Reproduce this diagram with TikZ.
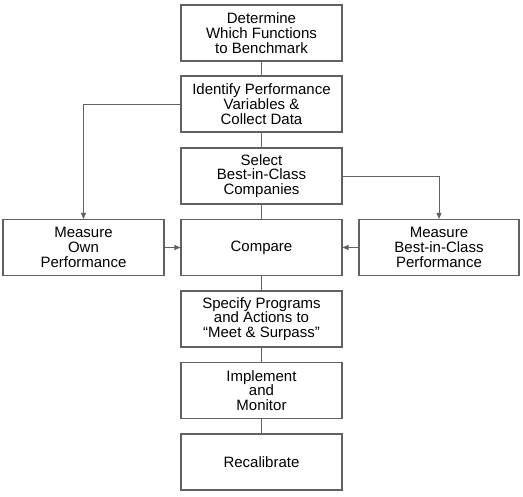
\documentclass[tikz,border=0pt]{standalone}
\usepackage{fontspec}
\setmainfont{Liberation Sans}
\usetikzlibrary{arrows.meta}
\begin{document}
\begin{tikzpicture}[x=1pt,y=-1pt,
  box/.style={draw=black!62, line width=1.1pt, minimum width=161pt, minimum height=56pt,
    inner sep=0pt, align=center, font=\fontsize{15}{14.8}\selectfont, text=black},
  conn/.style={draw=black!62, line width=0.9pt},
  arr/.style={conn, -{Triangle[length=6pt,width=5pt]}}]
\useasboundingbox (0,0) rectangle (523,497);
\node[box] (det) at (261.5,33) {Determine\\Which Functions\\to Benchmark};
\node[box] (ide) at (261.5,104) {Identify Performance\\Variables \&\\Collect Data};
\node[box] (sel) at (261.5,176) {Select\\Best-in-Class\\Companies};
\node[box] (cmp) at (261.5,247.5) {Compare};
\node[box] (own) at (83.5,247.5) {Measure\\Own\\Performance};
\node[box, minimum width=160pt] (bic) at (439,247.5) {Measure\\Best-in-Class\\Performance};
\node[box] (spe) at (261.5,319) {Specify Programs\\and Actions to\\“Meet \& Surpass”};
\node[box] (imp) at (261.5,390.5) {Implement\\and\\Monitor};
\node[box] (rec) at (261.5,462) {Recalibrate};
\draw[conn] (det) -- (ide);
\draw[conn] (ide) -- (sel);
\draw[conn] (sel) -- (cmp);
\draw[conn] (cmp) -- (spe);
\draw[conn] (spe) -- (imp);
\draw[conn] (imp) -- (rec);
\draw[arr] (ide.west) -| (own.north);
\draw[arr] (sel.east) -| (bic.north);
\draw[arr] (own) -- (cmp);
\draw[arr] (bic) -- (cmp);
\end{tikzpicture}
\end{document}
